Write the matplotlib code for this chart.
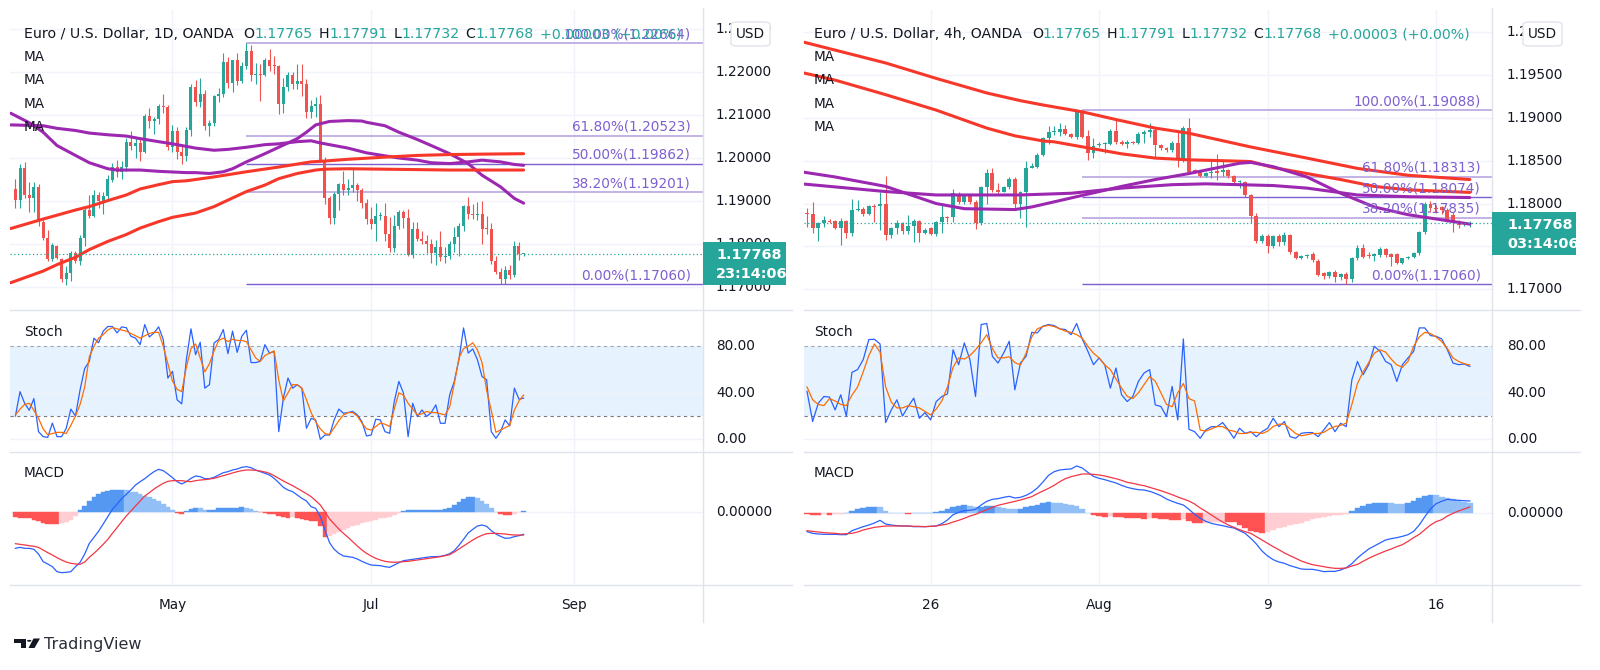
import numpy as np
import matplotlib
matplotlib.use("Agg")
import matplotlib.pyplot as plt
from matplotlib import transforms
from matplotlib.patches import Rectangle, FancyBboxPatch, Polygon, Circle
from matplotlib.lines import Line2D

plt.rcParams['font.family'] = ['DejaVu Sans']

# ======================= DATA =======================
# ---- EUR/USD daily (bar index 0 = 3 May 2021) ----
d_first = -34
d_open = [1.1929, 1.1902, 1.1977, 1.1915, 1.1906, 1.1933, 1.1850, 1.1814, 1.1764, 1.1795,
          1.1764, 1.1718, 1.1733, 1.1779, 1.1760, 1.1814, 1.1879, 1.1864, 1.1915, 1.1900,
          1.1911, 1.1948, 1.1979, 1.1968, 1.1979, 1.2037, 1.2029, 1.2035, 1.2014, 1.2097,
          1.2087, 1.2091, 1.2122, 1.2118, 1.2025, 1.2063, 1.2015, 1.2005, 1.2064, 1.2164,
          1.2130, 1.2150, 1.2074, 1.2081, 1.2144, 1.2150, 1.2224, 1.2175, 1.2228, 1.2180,
          1.2213, 1.2250, 1.2193, 1.2195, 1.2193, 1.2228, 1.2214, 1.2213, 1.2125, 1.2166,
          1.2192, 1.2173, 1.2179, 1.2172, 1.2107, 1.2120, 1.2125, 1.1996, 1.1906, 1.1860,
          1.1916, 1.1939, 1.1925, 1.1930, 1.1937, 1.1925, 1.1895, 1.1858, 1.1847, 1.1865,
          1.1866, 1.1823, 1.1790, 1.1843, 1.1875, 1.1861, 1.1775, 1.1836, 1.1811, 1.1807,
          1.1800, 1.1780, 1.1794, 1.1770, 1.1772, 1.1801, 1.1817, 1.1843, 1.1888, 1.1870,
          1.1868, 1.1870, 1.1835, 1.1834, 1.1761, 1.1735, 1.1718, 1.1739, 1.1728, 1.1796,
          1.17765]
d_high = [1.1952, 1.1985, 1.1990, 1.1945, 1.1945, 1.1940, 1.1855, 1.1833, 1.1802, 1.1798,
          1.1767, 1.1748, 1.1783, 1.1784, 1.1822, 1.1883, 1.1915, 1.1925, 1.1921, 1.1920,
          1.1960, 1.1989, 1.1995, 1.1994, 1.2046, 1.2062, 1.2048, 1.2048, 1.2102, 1.2116,
          1.2096, 1.2125, 1.2148, 1.2123, 1.2077, 1.2072, 1.2030, 1.2071, 1.2173, 1.2181,
          1.2185, 1.2159, 1.2088, 1.2147, 1.2162, 1.2245, 1.2234, 1.2229, 1.2244, 1.2224,
          1.22664, 1.2262, 1.2220, 1.2218, 1.2232, 1.2254, 1.2238, 1.2216, 1.2185, 1.2200,
          1.2199, 1.2218, 1.2218, 1.2184, 1.2134, 1.2143, 1.2146, 1.2002, 1.1911, 1.1922,
          1.1943, 1.1970, 1.1951, 1.1975, 1.1941, 1.1930, 1.1905, 1.1886, 1.1895, 1.1875,
          1.1895, 1.1862, 1.1868, 1.1880, 1.1880, 1.1881, 1.1850, 1.1852, 1.1830, 1.1822,
          1.1812, 1.1810, 1.1831, 1.1793, 1.1808, 1.1840, 1.1849, 1.1891, 1.19088, 1.1892,
          1.1898, 1.1900, 1.1865, 1.1848, 1.1771, 1.1745, 1.1748, 1.1750, 1.1806, 1.1805,
          1.17791]
d_low = [1.1883, 1.1884, 1.1906, 1.1874, 1.1874, 1.1842, 1.1810, 1.1761, 1.1761, 1.1764,
         1.1712, 1.1704, 1.1714, 1.1755, 1.1752, 1.1795, 1.1860, 1.1862, 1.1883, 1.1869,
         1.1899, 1.1945, 1.1956, 1.1950, 1.1970, 1.2018, 1.2001, 1.1993, 1.2012, 1.2070,
         1.2055, 1.2080, 1.2105, 1.2018, 1.2015, 1.1998, 1.1986, 1.1994, 1.2052, 1.2122,
         1.2118, 1.2065, 1.2052, 1.2074, 1.2130, 1.2143, 1.2162, 1.2153, 1.2169, 1.2175,
         1.2206, 1.2180, 1.2172, 1.2133, 1.2190, 1.2202, 1.2196, 1.2103, 1.2105, 1.2155,
         1.2160, 1.2160, 1.2144, 1.2093, 1.2094, 1.2095, 1.1990, 1.1892, 1.1847, 1.1846,
         1.1879, 1.1913, 1.1913, 1.1922, 1.1900, 1.1883, 1.1847, 1.1836, 1.1807, 1.1856,
         1.1807, 1.1782, 1.1781, 1.1836, 1.1838, 1.1772, 1.1768, 1.1806, 1.1800, 1.1780,
         1.1755, 1.1752, 1.1760, 1.1756, 1.1766, 1.1781, 1.1771, 1.1830, 1.1857, 1.1857,
         1.1856, 1.1800, 1.1823, 1.1754, 1.1731, 1.1707, 1.1706, 1.1718, 1.1724, 1.1762,
         1.17732]
d_close = [1.1902, 1.1977, 1.1915, 1.1906, 1.1933, 1.1852, 1.1814, 1.1764, 1.1798, 1.1768,
           1.1718, 1.1733, 1.1779, 1.1760, 1.1814, 1.1879, 1.1864, 1.1915, 1.1900, 1.1911,
           1.1951, 1.1979, 1.1968, 1.1979, 1.2037, 1.2029, 1.2035, 1.2014, 1.2097, 1.2087,
           1.2091, 1.2122, 1.2118, 1.2025, 1.2063, 1.2015, 1.2005, 1.2064, 1.2164, 1.2130,
           1.2150, 1.2074, 1.2081, 1.2144, 1.2150, 1.2224, 1.2175, 1.2228, 1.2180, 1.2213,
           1.2250, 1.2193, 1.2195, 1.2193, 1.2228, 1.2214, 1.2213, 1.2125, 1.2166, 1.2192,
           1.2173, 1.2179, 1.2172, 1.2107, 1.2120, 1.2125, 1.1996, 1.1906, 1.1860, 1.1916,
           1.1939, 1.1925, 1.1930, 1.1937, 1.1925, 1.1895, 1.1858, 1.1847, 1.1865, 1.1866,
           1.1823, 1.1790, 1.1843, 1.1875, 1.1861, 1.1775, 1.1836, 1.1811, 1.1807, 1.1800,
           1.1780, 1.1794, 1.1770, 1.1772, 1.1801, 1.1817, 1.1843, 1.1888, 1.1870, 1.1868,
           1.1870, 1.1835, 1.1834, 1.1761, 1.1735, 1.1718, 1.1739, 1.1728, 1.1796, 1.1777,
           1.17768]

# daily moving averages (bar index, price)
d_ma1_x = [-35, -31, -28, -25, -21, -18, -14, -12, -7, -3, 3, 5, 8, 11, 13, 16, 20, 23, 27, 29,
           31, 34, 38, 41, 42, 46, 49, 53, 56, 60, 64, 67, 71, 74, 76]
d_ma1_y = [1.2104, 1.2082, 1.2060, 1.2029, 1.2006, 1.1989, 1.1975, 1.1972, 1.1972, 1.1969,
           1.1966, 1.1966, 1.1964, 1.1968, 1.1975, 1.1991, 1.2010, 1.2025, 1.2045, 1.2060,
           1.2077, 1.2085, 1.2087, 1.2086, 1.2083, 1.2075, 1.2060, 1.2043, 1.2029, 1.2010,
           1.1987, 1.1960, 1.1933, 1.1906, 1.1895]
d_ma2_x = [-35, -28, -25, -21, -18, -14, -10, -7, -3, 0, 2, 5, 9, 12, 16, 20, 23, 27, 30,
           32, 35, 38, 42, 46, 49, 53, 56, 60, 64, 67, 71, 74, 76]
d_ma2_y = [1.2077, 1.2075, 1.2069, 1.2064, 1.2058, 1.2054, 1.2051, 1.2045, 1.2038,
           1.2033, 1.2029, 1.2023, 1.2018, 1.2020, 1.2025, 1.2031, 1.2033, 1.2038, 1.2040,
           1.2035, 1.2029, 1.2023, 1.2012, 1.2005, 1.2000, 1.1995, 1.1989, 1.1987, 1.1991,
           1.1995, 1.1991, 1.1985, 1.1983]
d_ma3_x = [-35, -28, -21, -18, -14, -10, -7, -3, 0, 3, 9, 16, 23, 30, 33, 38, 46, 53, 60, 67, 76]
d_ma3_y = [1.1836, 1.1858, 1.1879, 1.1887, 1.1901, 1.1914, 1.1928, 1.1938, 1.1945, 1.1947,
           1.1956, 1.1968, 1.1979, 1.1991, 1.1993, 1.1997, 1.2002, 1.2006, 1.2008, 1.2009, 1.2010]
d_ma4_x = [-35, -28, -25, -21, -18, -14, -10, -7, -3, 0, 3, 5, 9, 12, 16, 20, 23, 27, 31, 33,
           38, 46, 53, 60, 67, 76]
d_ma4_y = [1.1710, 1.1737, 1.1752, 1.1769, 1.1787, 1.1806, 1.1822, 1.1837, 1.1852, 1.1862,
           1.1868, 1.1872, 1.1887, 1.1902, 1.1922, 1.1937, 1.1952, 1.1964, 1.1972, 1.1974,
           1.1975, 1.1974, 1.1973, 1.1972, 1.1972, 1.1972]

d_fib_start = 16
d_fib_prices = [1.22664, 1.20523, 1.19862, 1.19201, 1.17060]

d_stoch_k = [20, 41, 31, 25, 35, 6.6, 2.3, 1.7, 14, 2.3,
             2.3, 9.5, 26, 20, 42.6, 61, 67, 87, 83, 93,
             97, 97, 91.5, 96.7, 96, 88.6, 87, 81.4, 98.7, 88,
             91.5, 96.7, 85.8, 52.7, 58.4, 34, 30.5, 68.5, 95, 72.8,
             83.5, 44, 47, 82.9, 85.8, 94.4, 73.7, 93, 74.8, 88.6,
             93.8, 66, 66, 67, 81.4, 74, 75.7, 6.6, 35.4, 52.7,
             44, 47, 44, 9.5, 18, 16.7, 0, 3.7, 3.7, 16.7,
             26, 22.4, 23, 24, 21, 15.3, 2.9, 3.7, 17.3, 16.7,
             6.6, 5.2, 32.5, 49.8, 39.7, 2.3, 31, 19.6, 25.3, 19.6,
             23, 29.6, 13.8, 13.8, 38.3, 49.8, 68.5, 95.8, 74.2, 77.7,
             68.5, 54, 51.2, 6.6, 0.9, 6.6, 16.7, 11.5, 44, 34.5,
             35.4]
d_stoch_d = [21, 26, 30, 31, 25, 18, 9, 4, 5, 6,
             6, 5, 12, 20, 30, 45, 71, 80, 87, 90,
             94, 96, 95, 94, 93, 91, 89, 87, 89, 91,
             92, 92, 80, 65, 50, 43, 41, 62, 78, 82,
             70, 58, 65, 76, 85, 87, 84, 86, 85, 85,
             84, 77, 70, 67, 72, 74, 76, 51, 33, 40,
             47, 47, 44, 34, 23, 15, 9, 5, 4, 10,
             16, 21, 23, 23, 20, 14, 9, 8, 11, 14,
             13, 11, 26, 40, 38, 31, 26, 21, 22, 24,
             23, 23, 22, 21, 28, 48, 70, 78, 80, 83,
             77, 66, 42, 25, 6, 8, 10, 12, 25, 33,
             38]
# MACD values in pips
d_macd = [-55, -53.5, -55, -55, -56.5, -63.5, -75, -78.5, -82.5, -90,
          -91.5, -91, -90, -82.5, -76, -63.5, -47.5, -38.5, -29.5, -18.5,
          -7.5, 3.5, 11.5, 19.5, 26, 32.5, 40, 45, 49.5, 55,
          60, 63.5, 61.5, 56.5, 51, 45, 41.5, 45, 50, 53.5,
          52.5, 49.5, 49.5, 51.5, 55, 58.5, 60, 62.5, 64, 66.5,
          67.5, 66, 62.5, 60, 57.5, 55, 50, 43.5, 36.5, 32.5,
          30, 25, 20, 16, 7.5, 5, -7.5, -27.5, -46.5, -56.5,
          -62.5, -66.5, -67.5, -68.5, -71, -74.5, -77.5, -80, -80.5, -81,
          -82.5, -83.5, -80, -76.5, -73.5, -72.5, -71.5, -70.5, -69.5, -68.5,
          -67.5, -67.5, -67, -65.5, -63, -58.5, -50.5, -41.5, -32, -26.5,
          -21.5, -20, -22, -28.5, -33.5, -37, -40, -39.5, -37.5, -36,
          -34]
d_signal = [-48, -49, -50, -51, -52, -53.5, -57.5, -61.5, -65, -69,
            -72.5, -75.5, -77.5, -78.5, -79, -75.5, -68.5, -62.5, -56, -49,
            -41.5, -32.5, -24, -15, -6.5, 1, 8.5, 16, 23.5, 28.5,
            34, 38.5, 42.5, 45.5, 46.5, 46.5, 46.5, 45.5, 45, 46.5,
            47.5, 48, 49, 50, 52, 54, 56, 58, 60, 61.5,
            62.5, 62.5, 62, 61, 59.5, 57.5, 54, 50, 46, 42.5,
            39, 35, 31, 27, 22.5, 16.5, 10, 0, -11, -18.5,
            -26, -32.5, -38.5, -45, -51.5, -57.5, -62.5, -66.5, -70, -72.5,
            -74.5, -75.5, -76, -75.5, -75, -74.5, -73.5, -72.5, -71.5, -70.5,
            -69.5, -68.5, -67.5, -66, -64.5, -60.5, -56, -51.5, -47, -42.5,
            -38.5, -35.5, -33, -32.5, -32.5, -33, -33.5, -34.5, -35, -35,
            -35]
d_hist = [-8, -9, -10, -10, -12, -14, -17, -18, -18, -18,
          -17, -15, -12, -6, 2, 8, 16, 22, 26, 29,
          31, 33, 33, 33, 32, 30, 29, 27, 24, 22,
          19, 16, 12, 7, 3, -2, -3, 1, 4, 6,
          5, 2, 2, 3, 5, 6, 6, 6, 6, 7,
          6, 4, 1, -1, -2, -3, -4, -6, -8, -9,
          -8, -9, -11, -12, -14, -14, -22, -38, -36, -33,
          -30, -27, -24, -22, -20, -17, -15, -14, -12, -10,
          -9, -8, -5, -2, 1, 2, 2, 2, 2, 2,
          2, 2, 2, 4, 6, 10, 15, 19, 22, 22,
          20, 16, 11, 5, 0, -3, -5, -5, -3, -1,
          1]
d_price_ticks = [1.17, 1.18, 1.19, 1.20, 1.21, 1.22, 1.23]
d_date_idx = [0, 43, 87]
d_date_lbl = ['May', 'Jul', 'Sep']

# ---- EUR/USD 4h (bar index 0 = first bar of 26 Jul 2021) ----
h_first = -22
h_open = [1.1789, 1.1788, 1.1772, 1.1777, 1.1780, 1.1780, 1.1772, 1.1780, 1.1766, 1.1793,
          1.1794, 1.1788, 1.1797, 1.1797, 1.1800, 1.1763, 1.1771, 1.1777, 1.1768, 1.1774,
          1.1780, 1.1766, 1.1771, 1.1765, 1.1778, 1.1784, 1.1784, 1.1811, 1.1802, 1.1809,
          1.1802, 1.1777, 1.1819, 1.1836, 1.1816, 1.1814, 1.1819, 1.1829, 1.1799, 1.1813,
          1.1842, 1.1843, 1.1857, 1.1876, 1.1884, 1.1884, 1.1887, 1.1881, 1.1878, 1.1907,
          1.1879, 1.1859, 1.1868, 1.1869, 1.1870, 1.1885, 1.1872, 1.1869, 1.1872, 1.1871,
          1.1881, 1.1884, 1.1886, 1.1868, 1.1865, 1.1862, 1.1871, 1.1851, 1.1888, 1.1839,
          1.1837, 1.1832, 1.1836, 1.1838, 1.1837, 1.1839, 1.1832, 1.1825, 1.1825, 1.1810,
          1.1785, 1.1756, 1.1762, 1.1750, 1.1762, 1.1755, 1.1763, 1.1743, 1.1737, 1.1739,
          1.1741, 1.1733, 1.1719, 1.1715, 1.1720, 1.1714, 1.1718, 1.1712, 1.1736, 1.1748,
          1.1740, 1.1739, 1.1740, 1.1747, 1.1741, 1.1741, 1.1731, 1.1736, 1.1738, 1.1742,
          1.1767, 1.1800, 1.1795, 1.1796, 1.1793, 1.1787, 1.1779, 1.1776, 1.17765]
h_high = [1.1795, 1.1802, 1.1779, 1.1786, 1.1782, 1.1781, 1.1783, 1.1781, 1.1805, 1.1804,
          1.1796, 1.1798, 1.1799, 1.1813, 1.1832, 1.1773, 1.1781, 1.1779, 1.1787, 1.1782,
          1.1781, 1.1771, 1.1773, 1.1780, 1.1801, 1.1786, 1.1817, 1.1814, 1.1811, 1.1811,
          1.1804, 1.1821, 1.1840, 1.1842, 1.1824, 1.1821, 1.1831, 1.1831, 1.1815, 1.1850,
          1.1847, 1.1859, 1.1878, 1.1890, 1.1890, 1.1894, 1.1892, 1.1882, 1.1907, 1.19088,
          1.1886, 1.1876, 1.1872, 1.1872, 1.1887, 1.1898, 1.1874, 1.1874, 1.1873, 1.1883,
          1.1886, 1.1894, 1.1888, 1.1870, 1.1866, 1.1873, 1.1886, 1.1890, 1.1900, 1.1840,
          1.1838, 1.1837, 1.1851, 1.1858, 1.1851, 1.1840, 1.1833, 1.1828, 1.1826, 1.1811,
          1.1789, 1.1764, 1.1764, 1.1763, 1.1765, 1.1767, 1.1765, 1.1745, 1.1740, 1.1741,
          1.1743, 1.1735, 1.1720, 1.1721, 1.1722, 1.1719, 1.1720, 1.1738, 1.1752, 1.1753,
          1.1744, 1.1742, 1.1749, 1.1748, 1.1742, 1.1742, 1.1737, 1.1739, 1.1744, 1.1768,
          1.1802, 1.1803, 1.1798, 1.1797, 1.1795, 1.1790, 1.1781, 1.1779, 1.17791]
h_low = [1.1773, 1.1766, 1.1756, 1.1773, 1.1777, 1.1770, 1.1752, 1.1760, 1.1762, 1.1791,
         1.1786, 1.1787, 1.1779, 1.1769, 1.1757, 1.1760, 1.1764, 1.1764, 1.1764, 1.1755,
         1.1755, 1.1764, 1.1763, 1.1762, 1.1766, 1.1779, 1.1779, 1.1800, 1.1800, 1.1800,
         1.1770, 1.1775, 1.1800, 1.1814, 1.1812, 1.1813, 1.1817, 1.1793, 1.1783, 1.1773,
         1.1841, 1.1841, 1.1855, 1.1869, 1.1880, 1.1879, 1.1880, 1.1876, 1.1875, 1.1877,
         1.1851, 1.1853, 1.1866, 1.1859, 1.1868, 1.1870, 1.1868, 1.1865, 1.1870, 1.1870,
         1.1871, 1.1878, 1.1853, 1.1862, 1.1860, 1.1860, 1.1843, 1.1848, 1.1836, 1.1836,
         1.1831, 1.1831, 1.1830, 1.1828, 1.1832, 1.1830, 1.1824, 1.1818, 1.1808, 1.1777,
         1.1754, 1.1754, 1.1742, 1.1748, 1.1751, 1.1752, 1.1741, 1.1735, 1.1735, 1.1736,
         1.1732, 1.1716, 1.1712, 1.1713, 1.1708, 1.1711, 1.1706, 1.1709, 1.1734, 1.1736,
         1.1736, 1.1733, 1.1738, 1.1738, 1.1727, 1.1729, 1.1729, 1.1735, 1.1737, 1.1740,
         1.1765, 1.1790, 1.1789, 1.1788, 1.1779, 1.1767, 1.1772, 1.1774, 1.17732]
h_close = [1.1788, 1.1772, 1.1777, 1.1781, 1.1779, 1.1772, 1.1780, 1.1766, 1.1793, 1.1794,
           1.1788, 1.1797, 1.1796, 1.1800, 1.1763, 1.1771, 1.1777, 1.1768, 1.1774, 1.1780,
           1.1766, 1.1769, 1.1765, 1.1778, 1.1784, 1.1783, 1.1812, 1.1802, 1.1809, 1.1802,
           1.1777, 1.1819, 1.1836, 1.1816, 1.1814, 1.1819, 1.1829, 1.1799, 1.1813, 1.1842,
           1.1844, 1.1857, 1.1876, 1.1884, 1.1885, 1.1887, 1.1881, 1.1878, 1.1907, 1.1878,
           1.1859, 1.1867, 1.1870, 1.1871, 1.1885, 1.1872, 1.1869, 1.1872, 1.1871, 1.1881,
           1.1884, 1.1886, 1.1868, 1.1865, 1.1862, 1.1871, 1.1851, 1.1888, 1.1837, 1.1837,
           1.1832, 1.1836, 1.1837, 1.1836, 1.1839, 1.1832, 1.1825, 1.1826, 1.1810, 1.1785,
           1.1756, 1.1762, 1.1750, 1.1762, 1.1755, 1.1763, 1.1743, 1.1737, 1.1739, 1.1740,
           1.1734, 1.1717, 1.1715, 1.1720, 1.1714, 1.1718, 1.1712, 1.1736, 1.1748, 1.1738,
           1.1739, 1.1741, 1.1747, 1.1740, 1.1738, 1.1731, 1.1736, 1.1738, 1.1742, 1.1767,
           1.1800, 1.1795, 1.1794, 1.1793, 1.1781, 1.1779, 1.1775, 1.1777, 1.17768]

h_ma1_x = [-23, -17, -8, 1, 10, 16, 20, 27, 33, 40, 46, 57, 67, 76, 85, 96]
h_ma1_y = [1.1989, 1.1979, 1.1964, 1.1946, 1.1929, 1.1920, 1.1915, 1.1907, 1.1898, 1.1888,
           1.1882, 1.1866, 1.1853, 1.1841, 1.1833, 1.1828]
h_ma2_x = [-23, -17, -8, 1, 10, 15, 20, 22, 28, 34, 40, 46, 52, 57, 61, 67, 73, 79, 85, 96]
h_ma2_y = [1.1953, 1.1944, 1.1927, 1.1909, 1.1888, 1.1879, 1.1873, 1.1872, 1.1865, 1.1858,
           1.1853, 1.1851, 1.1850, 1.1849, 1.1842, 1.1835, 1.1828, 1.1820, 1.1816, 1.1813]
h_ma3_x = [-23, -17, -8, 1, 6, 15, 18, 22, 26, 30, 34, 40, 46, 52, 55, 57, 61, 67, 73, 79,
           85, 91, 96]
h_ma3_y = [1.1837, 1.1831, 1.1820, 1.1800, 1.1794, 1.1793, 1.1796, 1.1802, 1.1808, 1.1814,
           1.1820, 1.1828, 1.1835, 1.1843, 1.1847, 1.1848, 1.1843, 1.1831, 1.1812, 1.1796,
           1.1787, 1.1781, 1.1776]
h_ma4_x = [-23, -8, 1, 10, 16, 25, 34, 43, 49, 55, 61, 67, 76, 85, 96]
h_ma4_y = [1.1823, 1.1814, 1.1810, 1.1810, 1.1810, 1.1812, 1.1818, 1.1822, 1.1823, 1.1822,
           1.1821, 1.1818, 1.1810, 1.1808, 1.1807]

h_fib_start = 27
h_fib_prices = [1.19088, 1.18313, 1.18074, 1.17835, 1.17060]

h_stoch_k = [41.2, 15.3, 31, 36.8, 36.3, 25.3, 38.3, 20, 57.6, 60,
             68.5, 85.8, 86, 82, 14.4, 25.3, 34, 20, 28.2, 35.4,
             18.1, 23, 16.7, 32.5, 36.8, 39.1, 77, 64.2, 82.9, 68.5,
             36.8, 98.7, 99.6, 71.4, 65.6, 74.2, 84.3, 42.6, 65.6, 71.4,
             92, 91.5, 97.3, 98.7, 97.8, 95, 94.4, 90, 99.6, 86.3,
             75.7, 64.2, 70, 64.2, 44, 61.3, 38.3, 32.5, 36.8, 49.8,
             57, 59.9, 29.6, 28.2, 19.6, 45.5, 16.7, 86.3, 8.6, 6.6,
             0.9, 8.1, 10.9, 10.9, 14.4, 8.1, 0.9, 9.5, 5.2, 6.6,
             2.3, 6.6, 9.5, 18.1, 10.9, 15.3, 2.3, 0.9, 5.2, 5.8,
             5.8, 2.3, 8.1, 14.4, 6.6, 13.8, 10.9, 51.2, 67, 55.5,
             64.2, 80, 75.7, 67, 64.2, 49.8, 64.2, 70, 75.7, 95.8,
             95.8, 89.2, 88.6, 86.3, 77.1, 65.6, 64.2, 64.7, 62.7]
h_stoch_d = [45, 34, 30, 29, 35, 33, 30, 29, 38, 45,
             58, 72, 82, 75, 45, 32, 27, 27, 29, 28,
             27, 24, 21, 26, 33, 45, 62, 70, 69, 72,
             77, 83, 90, 78, 70, 70, 71, 66, 64, 74,
             88, 95, 97, 98, 97, 95, 93, 92, 90, 87,
             80, 74, 70, 64, 60, 52, 44, 37, 35, 40,
             47, 54, 50, 40, 30, 28, 40, 48, 35, 33,
             8, 7, 9, 11, 11, 8, 7, 5, 5, 6,
             6, 5, 7, 11, 13, 13, 9, 5, 3, 4,
             5, 5, 6, 9, 11, 12, 14, 30, 48, 58,
             66, 74, 77, 75, 69, 64, 62, 67, 80, 88,
             92, 91, 88, 84, 78, 70, 67, 65, 64]
h_macd = [-11, -12, -12.4, -12.6, -12.6, -12.6, -12.8, -12.8, -10.4, -9.2,
          -8, -7, -5.8, -4.2, -6.4, -7, -7.4, -7.6, -7.6, -8,
          -8, -8, -7.8, -7.6, -6.2, -4, -0.8, 0.6, 1.6, 1.8,
          2.4, 5, 7.2, 8.4, 8.8, 9.6, 10.2, 9.2, 9.6, 10.8,
          12.6, 15.2, 18.8, 22.8, 25, 26, 26.4, 26.6, 28.4, 27.2,
          24.6, 22.2, 21, 20.2, 19.2, 18.2, 16.8, 15.6, 14.8, 14.2,
          14, 13.2, 12, 10.6, 8.6, 7.2, 6, 5, 2.4, -0.6,
          -3, -4.8, -6, -6.8, -7.4, -8.2, -8.8, -10.4, -12, -15,
          -18.4, -22.6, -25.6, -27.8, -29.2, -30, -31.4, -32.4, -33.4, -33.6,
          -33.6, -34.2, -35, -34.8, -34.8, -34, -32.6, -30.2, -26.8, -24,
          -21.4, -19.6, -17.8, -16, -15.2, -14.6, -13.8, -12.8, -10.8, -7,
          -2, 2.6, 5.8, 7.2, 8.4, 8, 7.8, 7.6, 7.4]
h_signal = [-10.4, -10.8, -11.2, -11.6, -11.8, -12, -12.4, -12.2, -12, -11.2,
            -10, -9.2, -8.4, -8, -7.6, -7.6, -7.6, -7.6, -7.6, -7.8,
            -7.8, -8, -7.8, -7.6, -7, -6.4, -5.2, -4.2, -3, -1.6,
            -0.6, 0.8, 2.2, 3.6, 4.8, 5.6, 6.4, 7.2, 8, 9,
            10, 11.8, 13.4, 15, 16.8, 19, 20.8, 22, 22.8, 23.6,
            23.6, 23.4, 23, 22.4, 21.6, 20.8, 19.8, 18.6, 18, 17.2,
            16.6, 15.6, 14.6, 13.6, 12.4, 11.2, 9.8, 8.6, 7.4, 5.6,
            3.2, 1.2, -1, -3.2, -5.2, -7, -8.4, -9.8, -11, -12,
            -14, -16, -18, -20, -21.8, -23.8, -25.4, -27, -28.6, -29.8,
            -30.8, -31.4, -32, -32.6, -33, -33, -32.8, -31.6, -30.6, -28.8,
            -27, -25.4, -24, -22.6, -21.4, -20, -18.8, -16.8, -14.6, -12.6,
            -9.8, -7, -5, -3.8, -1.6, 0, 1.4, 2.6, 3.8]
h_hist = [-0.6, -0.8, -0.8, -0.6, -0.8, -0.6, -0.4, 0.4, 1.6, 2.4,
          3, 3.6, 4, 3.6, 1.6, 0.4, 0.2, 0, -0.2, 0,
          0.2, 0.2, 0.4, 0.8, 1.6, 2.4, 3.6, 4.4, 4.8, 4.4,
          3.6, 4, 4.4, 4.4, 3.6, 3, 2.8, 2.4, 2.8, 3.6,
          4.4, 5.2, 6, 6.6, 6.4, 6, 5.6, 5, 4.4, 2.4,
          0.4, -1, -1.6, -2, -1.6, -2, -2.4, -2.8, -2.8, -3,
          -3.2, -2.8, -2.8, -3.2, -3.6, -4, -4, -3.6, -4.8, -6,
          -6, -5.6, -5.4, -5.2, -5, -5, -5.2, -7, -9, -10.4,
          -11.4, -11.6, -11, -10, -9, -8, -7.2, -6.4, -5.6, -4.6,
          -3.6, -2.8, -2, -1.6, -1.2, -0.8, -0.2, 1.2, 3, 4.4,
          5.6, 6, 6.2, 6.4, 6.2, 5.8, 5.4, 6, 7.6, 9.2,
          10.4, 11, 10.8, 10, 9.2, 8.4, 7.6, 6.8, 6]
h_price_ticks = [1.17, 1.175, 1.18, 1.185, 1.19, 1.195, 1.20]
h_date_idx = [0, 30, 60, 90]
h_date_lbl = ['26', 'Aug', '9', '16']

fib_levels = [1.0, 0.618, 0.5, 0.382, 0.0]
stoch_ticks = [0, 40, 80]
last_price = 1.17768
ohlc_last = ['1.17765', '1.17791', '1.17732', '1.17768']
change_txt = '+0.00003 (+0.00%)'

# ======================= STYLE =======================
W, H = 1600, 670
UP, DN = '#26a69a', '#ef5350'
GRID, SEP, TXT = '#f0f3fa', '#e0e3eb', '#131722'
PURPLE, MARED = '#9c27b0', '#f7372a'
FIB_LIGHT, FIB_DARK, FIB_TXT = '#b7a6e0', '#7e5fd0', '#7e5fd0'
K_COL, D_COL = '#2962ff', '#ff6d00'
MACD_COL, SIG_COL = '#2962ff', '#f23645'
H_UPG, H_UPF, H_DNG, H_DNF = '#5598f2', '#93bff7', '#ff5252', '#ffcdd2'
BAND = '#e6f2fd'
FS, FT = 9.8, 10.2

fig = plt.figure(figsize=(W / 100, H / 100), dpi=100)
fig.patch.set_facecolor('white')


def add_ax(x0, y0, x1, y1, xlim, ylim):
    ax = fig.add_axes([x0 / W, 1 - y1 / H, (x1 - x0) / W, (y1 - y0) / H])
    ax.set_xlim(*xlim)
    ax.set_ylim(*ylim)
    ax.set_axis_off()
    return ax


def ftext(x, y, s, **kw):
    kw.setdefault('fontsize', FS)
    kw.setdefault('color', TXT)
    kw.setdefault('va', 'center')
    return fig.text(x / W, 1 - y / H, s, **kw)


def fline(xs, ys, **kw):
    fig.add_artist(Line2D([x / W for x in xs], [1 - y / H for y in ys],
                          transform=fig.transFigure, **kw))


def frect(x0, y0, x1, y1, **kw):
    fig.add_artist(Rectangle((x0 / W, 1 - y1 / H), (x1 - x0) / W, (y1 - y0) / H,
                             transform=fig.transFigure, **kw))


def hist_colors(vals):
    cols, prev = [], 0.0
    for v in vals:
        if v >= 0:
            cols.append(H_UPG if v >= prev else H_UPF)
        else:
            cols.append(H_DNG if v <= prev else H_DNF)
        prev = v
    return cols


def draw_chart(P):
    x0, x1 = P['x0'], P['x1']
    xlim = P['xlim']
    axm = add_ax(x0, 10, x1, 310, xlim, P['ylim'])
    axs = add_ax(x0, 310, x1, 452, xlim, (-10.9, 111.2))
    axc = add_ax(x0, 452, x1, 585, xlim, P['ylim_macd'])

    for ax in (axm, axs, axc):
        for t in P['date_idx']:
            ax.axvline(t, color=GRID, lw=1, zorder=0)
    for p in P['price_ticks']:
        axm.axhline(p, color=GRID, lw=1, zorder=0)

    # fibonacci retracement
    trl = transforms.offset_copy(
        transforms.blended_transform_factory(axm.transAxes, axm.transData),
        fig=fig, x=0, y=2, units='dots')
    for lvl, pr in zip(fib_levels, P['fib']):
        dark = lvl in (0.5, 0.0)
        axm.plot([P['fib_start'], xlim[1]], [pr, pr], color=FIB_DARK if dark else FIB_LIGHT,
                 lw=1.0 if dark else 1.2, zorder=2, solid_capstyle='butt')
        axm.text(P['fib_lx'], pr, f"{lvl * 100:.2f}%({pr:.5f})", transform=trl,
                 ha='right', va='bottom', color=FIB_TXT, fontsize=FS, zorder=7)

    # candles
    o, h, l, c = (np.asarray(a, float) for a in (P['o'], P['h'], P['l'], P['c']))
    x = P['first'] + np.arange(len(o))
    cols = np.where(c >= o, UP, DN)
    axm.vlines(x, l, h, colors=cols, lw=0.8, zorder=3)
    axm.bar(x, np.maximum(np.abs(c - o), P['minh']), width=P['bw'],
            bottom=np.minimum(o, c), color=cols, lw=0, zorder=4)

    # moving averages
    for mx, my, col in P['mas']:
        axm.plot(mx, my, color=col, lw=2.2, zorder=5, solid_capstyle='round',
                 solid_joinstyle='round')

    # last price dotted line
    axm.axhline(last_price, color=UP, lw=0.9, ls=(0, (1, 2)), zorder=6)

    # stochastic
    xs = P['first'] + np.arange(len(P['k']))
    axs.axhspan(20, 80, color=BAND, lw=0, zorder=0)
    for t in (0, 40):
        axs.axhline(t, color=GRID, lw=1, zorder=0)
    axs.axhline(80, color='#a3a6af', lw=0.8, ls=(0, (3, 3)), zorder=1)
    axs.axhline(20, color='#787b86', lw=0.8, ls=(0, (3, 3)), zorder=1)
    axs.plot(xs, P['k'], color=K_COL, lw=0.9, zorder=3)
    axs.plot(xs, P['d'], color=D_COL, lw=0.9, zorder=4)

    # MACD
    xc = P['first'] + np.arange(len(P['macd']))
    axc.axhline(0, color=GRID, lw=1, zorder=0)
    hc = hist_colors(P['hist'])
    axc.bar(xc, P['hist'], width=1.0, color=hc, edgecolor=hc, lw=0.3, zorder=2)
    axc.plot(xc, P['macd'], color=MACD_COL, lw=0.9, zorder=3)
    axc.plot(xc, P['signal'], color=SIG_COL, lw=0.9, zorder=4)

    # price scale labels (those fully hidden behind the last-price tag are not drawn)
    yp = P['price_y']
    box_top, box_bot = yp - 12, yp + 31.5
    lx = (P['lab_x'] - x0) / (x1 - x0)
    trm = transforms.blended_transform_factory(axm.transAxes, axm.transData)
    for p in P['price_ticks']:
        ypix = H - axm.transData.transform((0, p))[1]
        if box_top + 8 < ypix < box_bot - 6:
            continue
        axm.text(lx, p, f"{p:.5f}", transform=trm, ha='left', va='center',
                 fontsize=FS, color=TXT, clip_on=False)
    trs = transforms.blended_transform_factory(axs.transAxes, axs.transData)
    for t in stoch_ticks:
        axs.text(lx, t, f"{t:.2f}", transform=trs, ha='left', va='center',
                 fontsize=FS, color=TXT, clip_on=False)
    trc = transforms.blended_transform_factory(axc.transAxes, axc.transData)
    axc.text(lx, 0, f"{0:.5f}", transform=trc, ha='left', va='center',
             fontsize=FS, color=TXT, clip_on=False)

    # date labels
    trx = transforms.blended_transform_factory(axc.transData, axc.transAxes)
    for t, s in zip(P['date_idx'], P['date_lbl']):
        axc.text(t, -20 / 133, s, transform=trx, ha='center', va='center',
                 fontsize=FS, color=TXT, clip_on=False)

    # title with OHLC
    tx = P['title_x']
    t = ftext(tx, 34, P['title'], fontsize=FT)
    segs = [('O', TXT, 10), (ohlc_last[0], UP, 0), ('H', TXT, 6), (ohlc_last[1], UP, 0),
            ('L', TXT, 6), (ohlc_last[2], UP, 0), ('C', TXT, 6), (ohlc_last[3], UP, 0),
            (change_txt, UP, 6)]
    for s, col, gap in segs:
        t = axm.annotate(s, xy=(1, 0.5), xycoords=t, xytext=(gap * 0.72, 0),
                         textcoords='offset points', ha='left', va='center',
                         fontsize=FT, color=col, annotation_clip=False, zorder=8)
    for yy in (57, 80, 103.5, 127):
        ftext(tx, yy, 'MA')
    ftext(tx, 331.5, 'Stoch')
    ftext(tx, 473, 'MACD')

    # separators
    for yy in (310, 452, 585):
        fline([x0, P['sep_end']], [yy, yy], color=SEP, lw=1, zorder=1)
    fline([x1, x1], [8, 622], color=SEP, lw=1, zorder=1)

    # last price tag
    frect(x1, box_top, P['box_end'], box_bot, color=UP, lw=0, zorder=5)
    ftext(P['lab_x'], yp + 1, f"{last_price:.5f}", color='white', fontsize=FS + 0.6,
          fontweight='bold', zorder=6)
    ftext(P['lab_x'], yp + 20, P['countdown'], color='white', fontsize=FS + 0.6,
          fontweight='bold', zorder=6)

    # currency button
    ux0, ux1 = P['usd']
    fig.add_artist(FancyBboxPatch((ux0 / W, 1 - 46 / H), (ux1 - ux0) / W, 24 / H,
                                  boxstyle='round,pad=0,rounding_size=0.004',
                                  transform=fig.transFigure, facecolor='white',
                                  edgecolor=SEP, lw=1, zorder=5))
    ftext((ux0 + ux1) / 2, 34, 'USD', ha='center', zorder=6)
    return axm


LEFT = dict(x0=10, x1=703, xlim=(-35.17, 114.83), ylim=(1.16465, 1.23442),
            ylim_macd=(-110, 89.5), first=d_first, o=d_open, h=d_high, l=d_low, c=d_close,
            bw=0.65, minh=0.00023,
            mas=[(d_ma1_x, d_ma1_y, PURPLE), (d_ma2_x, d_ma2_y, PURPLE),
                 (d_ma3_x, d_ma3_y, MARED), (d_ma4_x, d_ma4_y, MARED)],
            fib=d_fib_prices, fib_start=d_fib_start, fib_lx=(691 - 10) / 693,
            price_ticks=d_price_ticks, date_idx=d_date_idx, date_lbl=d_date_lbl,
            k=d_stoch_k, d=d_stoch_d, macd=d_macd, signal=d_signal, hist=d_hist,
            lab_x=716, title_x=24, title='Euro / U.S. Dollar, 1D, OANDA',
            sep_end=792, price_y=254, box_end=786, countdown='23:14:06', usd=(731, 770))
RIGHT = dict(x0=804, x1=1492, xlim=(-22.54, 99.95), ylim=(1.16758, 1.20258),
             ylim_macd=(-43, 36.8), first=h_first, o=h_open, h=h_high, l=h_low, c=h_close,
             bw=0.7, minh=0.000117,
             mas=[(h_ma1_x, h_ma1_y, MARED), (h_ma2_x, h_ma2_y, MARED),
                  (h_ma3_x, h_ma3_y, PURPLE), (h_ma4_x, h_ma4_y, PURPLE)],
             fib=h_fib_prices, fib_start=h_fib_start, fib_lx=(1481 - 804) / 688,
             price_ticks=h_price_ticks, date_idx=h_date_idx, date_lbl=h_date_lbl,
             k=h_stoch_k, d=h_stoch_d, macd=h_macd, signal=h_signal, hist=h_hist,
             lab_x=1507, title_x=814, title='Euro / U.S. Dollar, 4h, OANDA',
             sep_end=1580, price_y=223.5, box_end=1576, countdown='03:14:06',
             usd=(1523, 1562))

draw_chart(LEFT)
draw_chart(RIGHT)

# TradingView logo + wordmark
LOGO = '#131722'
fig.add_artist(Polygon([(13.5 / W, 1 - 638.5 / H), (26 / W, 1 - 638.5 / H), (26 / W, 1 - 648 / H),
                        (20.5 / W, 1 - 648 / H), (20.5 / W, 1 - 642.5 / H), (13.5 / W, 1 - 642.5 / H)],
                       closed=True, transform=fig.transFigure, color=LOGO, lw=0, zorder=5))
fig.add_artist(Circle((29.2 / W, 1 - 640.8 / H), 2.2 / W, transform=fig.transFigure,
                      color=LOGO, lw=0, zorder=5))
fig.add_artist(Polygon([(33.5 / W, 1 - 638.5 / H), (40 / W, 1 - 638.5 / H), (34.5 / W, 1 - 648 / H),
                        (28.5 / W, 1 - 648 / H)], closed=True, transform=fig.transFigure,
                       color=LOGO, lw=0, zorder=5))
ftext(44, 644, 'TradingView', fontsize=11.5, color='#2a2e39')

fig.savefig('out.png', dpi=100, facecolor='white')
